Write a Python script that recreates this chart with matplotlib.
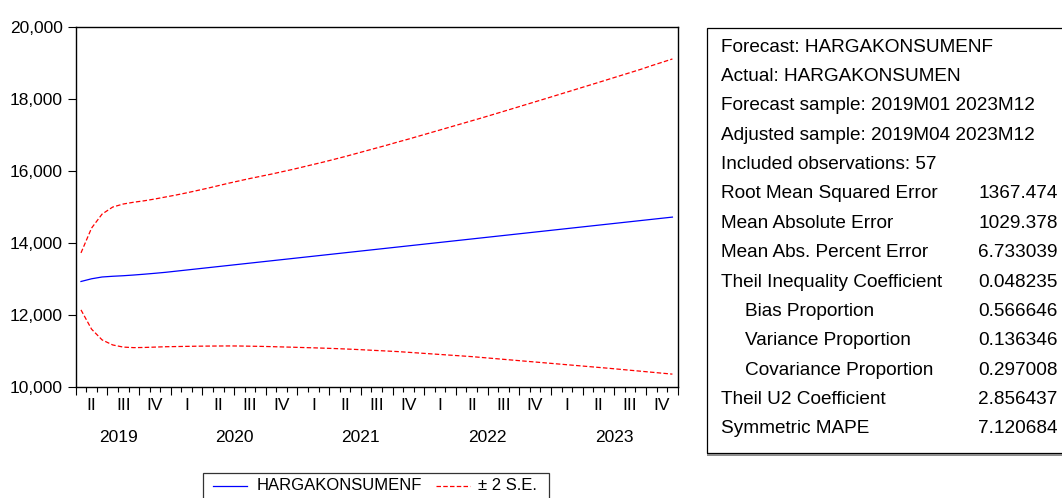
import matplotlib
matplotlib.use('Agg')
import matplotlib.pyplot as plt
from matplotlib.patches import Rectangle
from matplotlib.lines import Line2D
from matplotlib.ticker import FuncFormatter
import matplotlib.transforms as mtransforms
import numpy as np
import pandas as pd

plt.rcParams['font.family'] = ['Liberation Sans', 'DejaVu Sans']

# ---------------- data ----------------
start_month = '2019-04'
end_month = '2023-12'

forecast = [12935, 13010, 13060, 13080, 13095, 13115, 13138, 13163, 13190,
            13222, 13254, 13286, 13318, 13350, 13382, 13414, 13446, 13478,
            13510, 13542, 13574, 13606, 13638, 13670, 13702, 13734, 13766,
            13798, 13830, 13862, 13894, 13926, 13958, 13990, 14022, 14054,
            14086, 14118, 14150, 14182, 14214, 14246, 14278, 14310, 14342,
            14374, 14406, 14438, 14470, 14502, 14534, 14566, 14598, 14630,
            14662, 14694, 14726]

upper = [13730, 14420, 14810, 15005, 15090, 15140, 15180, 15230, 15285,
         15340, 15400, 15465, 15530, 15600, 15670, 15735, 15800, 15860,
         15920, 15985, 16050, 16120, 16190, 16260, 16335, 16410, 16490,
         16570, 16650, 16730, 16815, 16895, 16980, 17065, 17150, 17235,
         17320, 17405, 17490, 17578, 17666, 17755, 17844, 17933, 18022,
         18112, 18202, 18292, 18382, 18472, 18563, 18654, 18745, 18836,
         18936, 19030, 19125]

lower = [12145, 11610, 11310, 11170, 11110, 11095, 11100, 11110, 11120,
         11125, 11130, 11135, 11138, 11140, 11142, 11140, 11135, 11130,
         11123, 11115, 11107, 11098, 11090, 11080, 11070, 11058, 11045,
         11030, 11015, 11000, 10985, 10965, 10945, 10925, 10905, 10885,
         10865, 10845, 10820, 10795, 10770, 10745, 10720, 10695, 10670,
         10645, 10620, 10595, 10570, 10545, 10520, 10493, 10466, 10439,
         10412, 10385, 10358]

y_ticks = [10000, 12000, 14000, 16000, 18000, 20000]
quarter_names = ['I', 'II', 'III', 'IV']
legend_labels = ['HARGAKONSUMENF', '\u00b1 2 S.E.']

header_lines = ['Forecast: HARGAKONSUMENF',
                'Actual: HARGAKONSUMEN',
                'Forecast sample: 2019M01 2023M12',
                'Adjusted sample: 2019M04 2023M12',
                'Included observations: 57']
stat_labels = ['Root Mean Squared Error',
               'Mean Absolute Error',
               'Mean Abs. Percent Error',
               'Theil Inequality Coefficient',
               '   Bias Proportion',
               '   Variance Proportion',
               '   Covariance Proportion',
               'Theil U2 Coefficient',
               'Symmetric MAPE']
stat_values = ['1367.474', '1029.378', '6.733039', '0.048235', '0.566646',
               '0.136346', '0.297008', '2.856437', '7.120684']

# ---------------- figure ----------------
W, H = 1062, 498
fig = plt.figure(figsize=(W / 100, H / 100), dpi=100)


def fx(px):
    return px / W


def fy(py):
    return 1 - py / H


fs_axis = 12.5
ax_left, ax_right, ax_top, ax_bottom = 75.7, 677.7, 27.5, 387.0
ax = fig.add_axes([fx(ax_left), fy(ax_bottom),
                   (ax_right - ax_left) / W, (ax_bottom - ax_top) / H])

months = pd.period_range(start_month, end_month, freq='M')
x = np.arange(len(months))

dash = (0, (3.6, 1.8))
ax.plot(x, forecast, color='#0000FF', lw=0.9)
ax.plot(x, upper, color='#FF0000', lw=0.9, ls=dash)
ax.plot(x, lower, color='#FF0000', lw=0.9, ls=dash)

ax.set_xlim(-0.5, len(months) - 0.5)
ax.set_ylim(y_ticks[0], y_ticks[-1])
ax.set_yticks(y_ticks)
ax.yaxis.set_major_formatter(FuncFormatter(lambda v, p: f'{int(v):,}'))
ax.tick_params(axis='y', direction='out', length=5.5, width=0.8,
               labelsize=fs_axis, pad=4, colors='black')

# x ticks at month boundaries; long ticks at quarter starts
bounds = np.arange(len(months) + 1) - 0.5
all_months = list(months) + [months[-1] + 1]
major = [b for b, m in zip(bounds, all_months) if m.month in (1, 4, 7, 10)]
minor = [b for b, m in zip(bounds, all_months) if m.month not in (1, 4, 7, 10)]
ax.set_xticks(major)
ax.set_xticks(minor, minor=True)
ax.tick_params(axis='x', which='major', direction='out', length=6, width=0.8,
               labelbottom=False)
ax.tick_params(axis='x', which='minor', direction='out', length=3.5, width=0.8,
               labelbottom=False)

for s in ax.spines.values():
    s.set_linewidth(1.0)
    s.set_color('black')

trans = mtransforms.blended_transform_factory(ax.transData, fig.transFigure)
df = pd.DataFrame({'x': x, 'year': months.year, 'q': months.quarter})
for (yr, q), g in df.groupby(['year', 'q']):
    ax.text(g['x'].mean(), fy(405), quarter_names[q - 1], transform=trans,
            ha='center', va='center', fontsize=fs_axis)
for yr, g in df.groupby('year'):
    xc = g['x'].mean()
    if len(g) < 12:
        xc -= 0.45
    ax.text(xc, fy(438), str(yr), transform=trans,
            ha='center', va='center', fontsize=fs_axis)

# ---------------- legend (manual) ----------------
fig.add_artist(Rectangle((fx(202.7), fy(506)), (549.3 - 202.7) / W,
                         (506 - 473.3) / H, transform=fig.transFigure,
                         fill=False, ec='#333333', lw=0.9))
fig.add_artist(Line2D([fx(213), fx(247)], [fy(485.5), fy(485.5)],
                      transform=fig.transFigure, color='#0000FF', lw=0.9))
fig.text(fx(256.7), fy(485.5), legend_labels[0], ha='left', va='center',
         fontsize=12)
fig.add_artist(Line2D([fx(435.7), fx(470)], [fy(485.5), fy(485.5)],
                      transform=fig.transFigure, color='#FF0000', lw=0.9,
                      ls=dash))
fig.text(fx(478), fy(485.5), legend_labels[1], ha='left', va='center',
         fontsize=12)

# ---------------- statistics box ----------------
box_l, box_t, box_b = 707.3, 28.3, 453.3
fig.add_artist(Rectangle((fx(box_l), fy(box_b)), (1080 - box_l) / W,
                         (box_b - box_t) / H, transform=fig.transFigure,
                         fill=False, ec='black', lw=0.9))
fig.add_artist(Line2D([fx(box_l + 1), fx(1070)], [fy(box_b + 1.6), fy(box_b + 1.6)],
                      transform=fig.transFigure, color='#8a8a8a', lw=1.4))

line0, step = 47.0, 29.38
fs_stats = 13.7
row = 0
for t in header_lines:
    fig.text(fx(720.7), fy(line0 + step * row), t, ha='left', va='center',
             fontsize=fs_stats)
    row += 1
for lab, val in zip(stat_labels, stat_values):
    yy = fy(line0 + step * row)
    if lab.startswith('   '):
        fig.text(fx(745), yy, lab.strip(), ha='left', va='center',
                 fontsize=fs_stats)
    else:
        fig.text(fx(720.7), yy, lab, ha='left', va='center', fontsize=fs_stats)
    fig.text(fx(978), yy, val, ha='left', va='center', fontsize=fs_stats)
    row += 1

fig.savefig('out.png', dpi=100)
